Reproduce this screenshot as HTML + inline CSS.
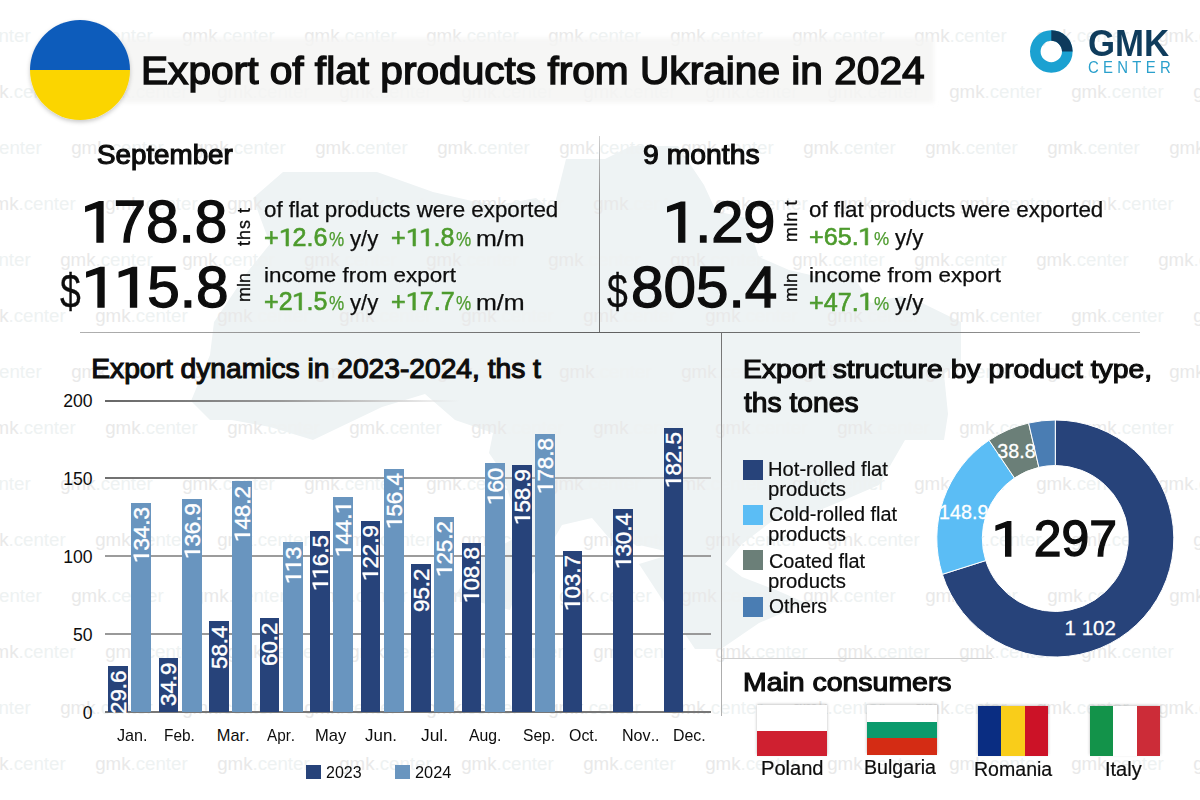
<!DOCTYPE html>
<html><head><meta charset="utf-8"><style>
html,body{margin:0;padding:0;background:#fff;}
#root{position:relative;width:1200px;height:800px;overflow:hidden;background:#fff;font-family:"Liberation Sans",sans-serif;}
.t{position:absolute;white-space:nowrap;line-height:1;transform-origin:0 0;font-kerning:none;}
.wm span{position:absolute;font-size:18.7px;color:#e9e9e9;white-space:nowrap;line-height:1;font-kerning:none;}
.wm i{font-style:normal;color:#eef2f2;}
.gl{position:absolute;left:105px;width:606px;height:2px;background:#8c8c8c;}
.gl0{position:absolute;left:105px;width:606px;height:2px;background:#777;}
.bar{position:absolute;width:19.8px;}
.vt{position:absolute;writing-mode:vertical-rl;transform:rotate(180deg);white-space:nowrap;text-align:left;}
</style></head><body><div id="root">
<svg width="1200" height="800" style="position:absolute;left:0;top:0">
  <defs><filter id="bblur" x="-5%" y="-20%" width="110%" height="140%"><feGaussianBlur stdDeviation="1.5"/></filter><linearGradient id="tb" x1="0" x2="1" y1="0" y2="0"><stop offset="0" stop-color="#f3f3f3"/><stop offset="0.85" stop-color="#f5f5f5"/><stop offset="1" stop-color="#fafafa"/></linearGradient></defs>
  <path id="map" d="M191 401 L210 355 L214 322 L249 270 L270 244 L253 198 L283 172 L326 172 L377 172 L433 192 L472 201 L498 205 L536 198 L553 211 L566 159 L605 159 L631 146 L678 146 L704 185 L716 211 L746 218 L759 257 L789 270 L815 276 L849 270 L871 303 L901 296 L922 303 L961 322 L961 361 L944 374 L948 414 L944 440 L905 440 L879 485 L849 498 L815 512 L776 518 L742 544 L725 564 L742 577 L776 590 L806 603 L759 623 L721 649 L695 649 L669 610 L639 564 L682 551 L665 551 L609 538 L592 518 L562 525 L536 570 L515 596 L510 610 L455 596 L480 557 L528 531 L510 498 L502 472 L489 453 L493 433 L455 420 L425 394 L382 407 L313 440 L270 427 L232 420 L210 420 Z" fill="#eef3f4"/>
</svg>
<div class="wm"><span style="left:-61.8px;top:26.7px">gmk<i>.center</i></span>
<span style="left:60.2px;top:26.7px">gmk<i>.center</i></span>
<span style="left:182.2px;top:26.7px">gmk<i>.center</i></span>
<span style="left:304.2px;top:26.7px">gmk<i>.center</i></span>
<span style="left:426.2px;top:26.7px">gmk<i>.center</i></span>
<span style="left:548.2px;top:26.7px">gmk<i>.center</i></span>
<span style="left:670.2px;top:26.7px">gmk<i>.center</i></span>
<span style="left:792.2px;top:26.7px">gmk<i>.center</i></span>
<span style="left:914.2px;top:26.7px">gmk<i>.center</i></span>
<span style="left:1036.2px;top:26.7px">gmk<i>.center</i></span>
<span style="left:1158.2px;top:26.7px">gmk<i>.center</i></span>
<span style="left:-26.8px;top:82.7px">gmk<i>.center</i></span>
<span style="left:95.2px;top:82.7px">gmk<i>.center</i></span>
<span style="left:217.2px;top:82.7px">gmk<i>.center</i></span>
<span style="left:339.2px;top:82.7px">gmk<i>.center</i></span>
<span style="left:461.2px;top:82.7px">gmk<i>.center</i></span>
<span style="left:583.2px;top:82.7px">gmk<i>.center</i></span>
<span style="left:705.2px;top:82.7px">gmk<i>.center</i></span>
<span style="left:827.2px;top:82.7px">gmk<i>.center</i></span>
<span style="left:949.2px;top:82.7px">gmk<i>.center</i></span>
<span style="left:1071.2px;top:82.7px">gmk<i>.center</i></span>
<span style="left:1193.2px;top:82.7px">gmk<i>.center</i></span>
<span style="left:-50.8px;top:138.7px">gmk<i>.center</i></span>
<span style="left:71.2px;top:138.7px">gmk<i>.center</i></span>
<span style="left:193.2px;top:138.7px">gmk<i>.center</i></span>
<span style="left:315.2px;top:138.7px">gmk<i>.center</i></span>
<span style="left:437.2px;top:138.7px">gmk<i>.center</i></span>
<span style="left:559.2px;top:138.7px">gmk<i>.center</i></span>
<span style="left:681.2px;top:138.7px">gmk<i>.center</i></span>
<span style="left:803.2px;top:138.7px">gmk<i>.center</i></span>
<span style="left:925.2px;top:138.7px">gmk<i>.center</i></span>
<span style="left:1047.2px;top:138.7px">gmk<i>.center</i></span>
<span style="left:1169.2px;top:138.7px">gmk<i>.center</i></span>
<span style="left:-16.8px;top:194.7px">gmk<i>.center</i></span>
<span style="left:105.2px;top:194.7px">gmk<i>.center</i></span>
<span style="left:227.2px;top:194.7px">gmk<i>.center</i></span>
<span style="left:349.2px;top:194.7px">gmk<i>.center</i></span>
<span style="left:471.2px;top:194.7px">gmk<i>.center</i></span>
<span style="left:593.2px;top:194.7px">gmk<i>.center</i></span>
<span style="left:715.2px;top:194.7px">gmk<i>.center</i></span>
<span style="left:837.2px;top:194.7px">gmk<i>.center</i></span>
<span style="left:959.2px;top:194.7px">gmk<i>.center</i></span>
<span style="left:1081.2px;top:194.7px">gmk<i>.center</i></span>
<span style="left:-61.8px;top:250.7px">gmk<i>.center</i></span>
<span style="left:60.2px;top:250.7px">gmk<i>.center</i></span>
<span style="left:182.2px;top:250.7px">gmk<i>.center</i></span>
<span style="left:304.2px;top:250.7px">gmk<i>.center</i></span>
<span style="left:426.2px;top:250.7px">gmk<i>.center</i></span>
<span style="left:548.2px;top:250.7px">gmk<i>.center</i></span>
<span style="left:670.2px;top:250.7px">gmk<i>.center</i></span>
<span style="left:792.2px;top:250.7px">gmk<i>.center</i></span>
<span style="left:914.2px;top:250.7px">gmk<i>.center</i></span>
<span style="left:1036.2px;top:250.7px">gmk<i>.center</i></span>
<span style="left:1158.2px;top:250.7px">gmk<i>.center</i></span>
<span style="left:-26.8px;top:306.7px">gmk<i>.center</i></span>
<span style="left:95.2px;top:306.7px">gmk<i>.center</i></span>
<span style="left:217.2px;top:306.7px">gmk<i>.center</i></span>
<span style="left:339.2px;top:306.7px">gmk<i>.center</i></span>
<span style="left:461.2px;top:306.7px">gmk<i>.center</i></span>
<span style="left:583.2px;top:306.7px">gmk<i>.center</i></span>
<span style="left:705.2px;top:306.7px">gmk<i>.center</i></span>
<span style="left:827.2px;top:306.7px">gmk<i>.center</i></span>
<span style="left:949.2px;top:306.7px">gmk<i>.center</i></span>
<span style="left:1071.2px;top:306.7px">gmk<i>.center</i></span>
<span style="left:1193.2px;top:306.7px">gmk<i>.center</i></span>
<span style="left:-50.8px;top:362.7px">gmk<i>.center</i></span>
<span style="left:71.2px;top:362.7px">gmk<i>.center</i></span>
<span style="left:193.2px;top:362.7px">gmk<i>.center</i></span>
<span style="left:315.2px;top:362.7px">gmk<i>.center</i></span>
<span style="left:437.2px;top:362.7px">gmk<i>.center</i></span>
<span style="left:559.2px;top:362.7px">gmk<i>.center</i></span>
<span style="left:681.2px;top:362.7px">gmk<i>.center</i></span>
<span style="left:803.2px;top:362.7px">gmk<i>.center</i></span>
<span style="left:925.2px;top:362.7px">gmk<i>.center</i></span>
<span style="left:1047.2px;top:362.7px">gmk<i>.center</i></span>
<span style="left:1169.2px;top:362.7px">gmk<i>.center</i></span>
<span style="left:-16.8px;top:418.7px">gmk<i>.center</i></span>
<span style="left:105.2px;top:418.7px">gmk<i>.center</i></span>
<span style="left:227.2px;top:418.7px">gmk<i>.center</i></span>
<span style="left:349.2px;top:418.7px">gmk<i>.center</i></span>
<span style="left:471.2px;top:418.7px">gmk<i>.center</i></span>
<span style="left:593.2px;top:418.7px">gmk<i>.center</i></span>
<span style="left:715.2px;top:418.7px">gmk<i>.center</i></span>
<span style="left:837.2px;top:418.7px">gmk<i>.center</i></span>
<span style="left:959.2px;top:418.7px">gmk<i>.center</i></span>
<span style="left:1081.2px;top:418.7px">gmk<i>.center</i></span>
<span style="left:-61.8px;top:474.7px">gmk<i>.center</i></span>
<span style="left:60.2px;top:474.7px">gmk<i>.center</i></span>
<span style="left:182.2px;top:474.7px">gmk<i>.center</i></span>
<span style="left:304.2px;top:474.7px">gmk<i>.center</i></span>
<span style="left:426.2px;top:474.7px">gmk<i>.center</i></span>
<span style="left:548.2px;top:474.7px">gmk<i>.center</i></span>
<span style="left:670.2px;top:474.7px">gmk<i>.center</i></span>
<span style="left:792.2px;top:474.7px">gmk<i>.center</i></span>
<span style="left:914.2px;top:474.7px">gmk<i>.center</i></span>
<span style="left:1036.2px;top:474.7px">gmk<i>.center</i></span>
<span style="left:1158.2px;top:474.7px">gmk<i>.center</i></span>
<span style="left:-26.8px;top:530.7px">gmk<i>.center</i></span>
<span style="left:95.2px;top:530.7px">gmk<i>.center</i></span>
<span style="left:217.2px;top:530.7px">gmk<i>.center</i></span>
<span style="left:339.2px;top:530.7px">gmk<i>.center</i></span>
<span style="left:461.2px;top:530.7px">gmk<i>.center</i></span>
<span style="left:583.2px;top:530.7px">gmk<i>.center</i></span>
<span style="left:705.2px;top:530.7px">gmk<i>.center</i></span>
<span style="left:827.2px;top:530.7px">gmk<i>.center</i></span>
<span style="left:949.2px;top:530.7px">gmk<i>.center</i></span>
<span style="left:1071.2px;top:530.7px">gmk<i>.center</i></span>
<span style="left:1193.2px;top:530.7px">gmk<i>.center</i></span>
<span style="left:-50.8px;top:586.7px">gmk<i>.center</i></span>
<span style="left:71.2px;top:586.7px">gmk<i>.center</i></span>
<span style="left:193.2px;top:586.7px">gmk<i>.center</i></span>
<span style="left:315.2px;top:586.7px">gmk<i>.center</i></span>
<span style="left:437.2px;top:586.7px">gmk<i>.center</i></span>
<span style="left:559.2px;top:586.7px">gmk<i>.center</i></span>
<span style="left:681.2px;top:586.7px">gmk<i>.center</i></span>
<span style="left:803.2px;top:586.7px">gmk<i>.center</i></span>
<span style="left:925.2px;top:586.7px">gmk<i>.center</i></span>
<span style="left:1047.2px;top:586.7px">gmk<i>.center</i></span>
<span style="left:1169.2px;top:586.7px">gmk<i>.center</i></span>
<span style="left:-16.8px;top:642.7px">gmk<i>.center</i></span>
<span style="left:105.2px;top:642.7px">gmk<i>.center</i></span>
<span style="left:227.2px;top:642.7px">gmk<i>.center</i></span>
<span style="left:349.2px;top:642.7px">gmk<i>.center</i></span>
<span style="left:471.2px;top:642.7px">gmk<i>.center</i></span>
<span style="left:593.2px;top:642.7px">gmk<i>.center</i></span>
<span style="left:715.2px;top:642.7px">gmk<i>.center</i></span>
<span style="left:837.2px;top:642.7px">gmk<i>.center</i></span>
<span style="left:959.2px;top:642.7px">gmk<i>.center</i></span>
<span style="left:1081.2px;top:642.7px">gmk<i>.center</i></span>
<span style="left:-61.8px;top:698.7px">gmk<i>.center</i></span>
<span style="left:60.2px;top:698.7px">gmk<i>.center</i></span>
<span style="left:182.2px;top:698.7px">gmk<i>.center</i></span>
<span style="left:304.2px;top:698.7px">gmk<i>.center</i></span>
<span style="left:426.2px;top:698.7px">gmk<i>.center</i></span>
<span style="left:548.2px;top:698.7px">gmk<i>.center</i></span>
<span style="left:670.2px;top:698.7px">gmk<i>.center</i></span>
<span style="left:792.2px;top:698.7px">gmk<i>.center</i></span>
<span style="left:914.2px;top:698.7px">gmk<i>.center</i></span>
<span style="left:1036.2px;top:698.7px">gmk<i>.center</i></span>
<span style="left:1158.2px;top:698.7px">gmk<i>.center</i></span>
<span style="left:-26.8px;top:754.7px">gmk<i>.center</i></span>
<span style="left:95.2px;top:754.7px">gmk<i>.center</i></span>
<span style="left:217.2px;top:754.7px">gmk<i>.center</i></span>
<span style="left:339.2px;top:754.7px">gmk<i>.center</i></span>
<span style="left:461.2px;top:754.7px">gmk<i>.center</i></span>
<span style="left:583.2px;top:754.7px">gmk<i>.center</i></span>
<span style="left:705.2px;top:754.7px">gmk<i>.center</i></span>
<span style="left:827.2px;top:754.7px">gmk<i>.center</i></span>
<span style="left:949.2px;top:754.7px">gmk<i>.center</i></span>
<span style="left:1071.2px;top:754.7px">gmk<i>.center</i></span>
<span style="left:1193.2px;top:754.7px">gmk<i>.center</i></span>
<span style="left:-50.8px;top:810.7px">gmk<i>.center</i></span>
<span style="left:71.2px;top:810.7px">gmk<i>.center</i></span>
<span style="left:193.2px;top:810.7px">gmk<i>.center</i></span>
<span style="left:315.2px;top:810.7px">gmk<i>.center</i></span>
<span style="left:437.2px;top:810.7px">gmk<i>.center</i></span>
<span style="left:559.2px;top:810.7px">gmk<i>.center</i></span>
<span style="left:681.2px;top:810.7px">gmk<i>.center</i></span>
<span style="left:803.2px;top:810.7px">gmk<i>.center</i></span>
<span style="left:925.2px;top:810.7px">gmk<i>.center</i></span>
<span style="left:1047.2px;top:810.7px">gmk<i>.center</i></span>
<span style="left:1169.2px;top:810.7px">gmk<i>.center</i></span></div>
<svg width="1200" height="130" style="position:absolute;left:0;top:0"><defs><filter id="bblur2" x="-5%" y="-30%" width="110%" height="160%"><feGaussianBlur stdDeviation="2.2"/></filter></defs><rect x="122" y="38" width="812" height="65" fill="#f5f5f3" fill-opacity="0.85" filter="url(#bblur2)"/></svg>
<svg width="1200" height="130" style="position:absolute;left:0;top:0">
<defs><filter id="sh" x="-20%" y="-20%" width="140%" height="150%"><feDropShadow dx="0" dy="2" stdDeviation="2" flood-color="#000" flood-opacity="0.22"/></filter>
<clipPath id="fc"><circle cx="80" cy="70" r="50"/></clipPath></defs>
<g filter="url(#sh)"><g clip-path="url(#fc)"><rect x="30" y="20" width="100" height="50" fill="#0f5cbb"/><rect x="30" y="70" width="100" height="50" fill="#fbd500"/></g></g>
<circle cx="1051.3" cy="51.5" r="16" fill="none" stroke="#1ba1d1" stroke-width="10.6"/>
<path d="M1051.3 35.5 A16 16 0 0 1 1067.3 51.5" fill="none" stroke="#0e3a5c" stroke-width="10.6"/>
</svg>
<div class="t" style="left:140.71px;top:52.20px;font-size:38.23px;font-weight:normal;color:#0d0d0d;-webkit-text-stroke:1.4px #0d0d0d;transform:scaleX(1.0630);letter-spacing:0.0px;">Export of flat products from Ukraine in 2024</div>
<div class="t" style="left:1087.87px;top:25.00px;font-size:37.24px;font-weight:bold;color:#0f3c5c;transform:scaleX(0.9341);letter-spacing:0.0px;">GMK</div>
<div class="t" style="left:1087.94px;top:60.30px;font-size:15.61px;font-weight:normal;color:#2aa0cc;transform:scaleX(0.9546);letter-spacing:4.5px;">CENTER</div>
<div class="t" style="left:97.33px;top:141.70px;font-size:26.81px;font-weight:normal;color:#0d0d0d;-webkit-text-stroke:1.15px #0d0d0d;transform:scaleX(1.0358);letter-spacing:0.0px;">September</div>
<div class="t" style="left:643.02px;top:140.60px;font-size:27.36px;font-weight:normal;color:#0d0d0d;-webkit-text-stroke:1.15px #0d0d0d;transform:scaleX(1.0371);letter-spacing:0.0px;">9 months</div>
<div class="t" style="left:81.49px;top:193.00px;font-size:58.79px;font-weight:normal;color:#0d0d0d;-webkit-text-stroke:1.3px #0d0d0d;transform:scaleX(0.9951);letter-spacing:0.0px;"><span style="position:relative;color:transparent;-webkit-text-stroke:0 transparent">1<svg style="position:absolute;left:0;top:0;overflow:visible" width="32.70" height="65"><g transform="translate(0 53) scale(0.02871 -0.02871)"><path d="M770 0 L770 1409 L640 1409 L165 1232 L165 1068 L560 1205 L560 0 Z" fill="#0d0d0d" stroke="#0d0d0d" stroke-width="45.3" stroke-linejoin="miter"/></g></svg></span>78.8</div>
<div class="t" style="left:82.00px;top:258.70px;font-size:57.64px;font-weight:normal;color:#0d0d0d;-webkit-text-stroke:1.3px #0d0d0d;transform:scaleX(1.0162);letter-spacing:0.0px;"><span style="position:relative;color:transparent;-webkit-text-stroke:0 transparent">1<svg style="position:absolute;left:0;top:0;overflow:visible" width="32.06" height="64"><g transform="translate(0 52) scale(0.02815 -0.02815)"><path d="M770 0 L770 1409 L640 1409 L165 1232 L165 1068 L560 1205 L560 0 Z" fill="#0d0d0d" stroke="#0d0d0d" stroke-width="46.2" stroke-linejoin="miter"/></g></svg></span><span style="position:relative;color:transparent;-webkit-text-stroke:0 transparent">1<svg style="position:absolute;left:0;top:0;overflow:visible" width="32.06" height="64"><g transform="translate(0 52) scale(0.02815 -0.02815)"><path d="M770 0 L770 1409 L640 1409 L165 1232 L165 1068 L560 1205 L560 0 Z" fill="#0d0d0d" stroke="#0d0d0d" stroke-width="46.2" stroke-linejoin="miter"/></g></svg></span>5.8</div>
<div class="t" style="left:59.72px;top:266.50px;font-size:48.16px;font-weight:normal;color:#0d0d0d;-webkit-text-stroke:0.3px #0d0d0d;transform:scaleX(0.7755);letter-spacing:0.0px;">$</div>
<div class="t" style="left:662.95px;top:193.00px;font-size:58.07px;font-weight:normal;color:#0d0d0d;-webkit-text-stroke:1.3px #0d0d0d;transform:scaleX(0.9948);letter-spacing:0.0px;"><span style="position:relative;color:transparent;-webkit-text-stroke:0 transparent">1<svg style="position:absolute;left:0;top:0;overflow:visible" width="32.30" height="65"><g transform="translate(0 53) scale(0.02836 -0.02836)"><path d="M770 0 L770 1409 L640 1409 L165 1232 L165 1068 L560 1205 L560 0 Z" fill="#0d0d0d" stroke="#0d0d0d" stroke-width="45.8" stroke-linejoin="miter"/></g></svg></span>.29</div>
<div class="t" style="left:630.62px;top:258.70px;font-size:57.64px;font-weight:normal;color:#0d0d0d;-webkit-text-stroke:1.3px #0d0d0d;transform:scaleX(1.0137);letter-spacing:0.0px;">805.4</div>
<div class="t" style="left:607.22px;top:266.50px;font-size:48.16px;font-weight:normal;color:#0d0d0d;-webkit-text-stroke:0.3px #0d0d0d;transform:scaleX(0.7755);letter-spacing:0.0px;">$</div>
<div class="vt" style="left:236.3px;top:207.2px;width:16px;line-height:16px;font-size:18px;color:#0d0d0d;letter-spacing:1.0px;-webkit-text-stroke:0.3px #111">ths t</div>
<div class="vt" style="left:236.3px;top:273.3px;width:16px;line-height:16px;font-size:18px;color:#0d0d0d;letter-spacing:0px;-webkit-text-stroke:0.3px #111">mln</div>
<div class="vt" style="left:783.3px;top:200.3px;width:16px;line-height:16px;font-size:18px;color:#0d0d0d;letter-spacing:0.6px;-webkit-text-stroke:0.3px #111">mln t</div>
<div class="vt" style="left:783.3px;top:273.3px;width:16px;line-height:16px;font-size:18px;color:#0d0d0d;letter-spacing:0px;-webkit-text-stroke:0.3px #111">mln</div>
<div class="t" style="left:264.49px;top:200.00px;font-size:21.36px;font-weight:normal;color:#0d0d0d;-webkit-text-stroke:0.25px #0d0d0d;transform:scaleX(1.0457);letter-spacing:0.0px;">of flat products were exported</div>
<div class="t" style="left:263.94px;top:265.20px;font-size:20.39px;font-weight:normal;color:#0d0d0d;-webkit-text-stroke:0.25px #0d0d0d;transform:scaleX(1.1007);letter-spacing:0.0px;">income from export</div>
<div class="t" style="left:264.38px;top:224.70px;font-size:24.92px;font-weight:normal;color:#4d9b2d;-webkit-text-stroke:0.6px #4d9b2d;transform:scaleX(1.0075);letter-spacing:0.0px;">+<span style="position:relative;color:transparent;-webkit-text-stroke:0 transparent">1<svg style="position:absolute;left:0;top:0;overflow:visible" width="13.86" height="28"><g transform="translate(0 23) scale(0.01217 -0.01217)"><path d="M770 0 L770 1409 L640 1409 L165 1232 L165 1068 L560 1205 L560 0 Z" fill="#4d9b2d" stroke="#4d9b2d" stroke-width="49.3" stroke-linejoin="miter"/></g></svg></span>2.6</div>
<div class="t" style="left:329.00px;top:229.70px;font-size:19.56px;font-weight:normal;color:#4d9b2d;-webkit-text-stroke:0.25px #4d9b2d;transform:scaleX(0.8738);letter-spacing:0.0px;">%</div>
<div class="t" style="left:350.37px;top:228.70px;font-size:21.50px;font-weight:normal;color:#0d0d0d;-webkit-text-stroke:0.25px #0d0d0d;transform:scaleX(1.0315);letter-spacing:0.0px;">y/y</div>
<div class="t" style="left:391.28px;top:224.70px;font-size:24.92px;font-weight:normal;color:#4d9b2d;-webkit-text-stroke:0.6px #4d9b2d;transform:scaleX(1.0073);letter-spacing:0.0px;">+<span style="position:relative;color:transparent;-webkit-text-stroke:0 transparent">1<svg style="position:absolute;left:0;top:0;overflow:visible" width="13.86" height="28"><g transform="translate(0 23) scale(0.01217 -0.01217)"><path d="M770 0 L770 1409 L640 1409 L165 1232 L165 1068 L560 1205 L560 0 Z" fill="#4d9b2d" stroke="#4d9b2d" stroke-width="49.3" stroke-linejoin="miter"/></g></svg></span><span style="position:relative;color:transparent;-webkit-text-stroke:0 transparent">1<svg style="position:absolute;left:0;top:0;overflow:visible" width="13.86" height="28"><g transform="translate(0 23) scale(0.01217 -0.01217)"><path d="M770 0 L770 1409 L640 1409 L165 1232 L165 1068 L560 1205 L560 0 Z" fill="#4d9b2d" stroke="#4d9b2d" stroke-width="49.3" stroke-linejoin="miter"/></g></svg></span>.8</div>
<div class="t" style="left:455.90px;top:229.70px;font-size:19.56px;font-weight:normal;color:#4d9b2d;-webkit-text-stroke:0.25px #4d9b2d;transform:scaleX(0.8738);letter-spacing:0.0px;">%</div>
<div class="t" style="left:476.18px;top:228.70px;font-size:21.50px;font-weight:normal;color:#0d0d0d;-webkit-text-stroke:0.25px #0d0d0d;transform:scaleX(1.1633);letter-spacing:0.0px;">m/m</div>
<div class="t" style="left:264.38px;top:288.70px;font-size:24.92px;font-weight:normal;color:#4d9b2d;-webkit-text-stroke:0.6px #4d9b2d;transform:scaleX(1.0067);letter-spacing:0.0px;">+2<span style="position:relative;color:transparent;-webkit-text-stroke:0 transparent">1<svg style="position:absolute;left:0;top:0;overflow:visible" width="13.86" height="28"><g transform="translate(0 23) scale(0.01217 -0.01217)"><path d="M770 0 L770 1409 L640 1409 L165 1232 L165 1068 L560 1205 L560 0 Z" fill="#4d9b2d" stroke="#4d9b2d" stroke-width="49.3" stroke-linejoin="miter"/></g></svg></span>.5</div>
<div class="t" style="left:329.00px;top:293.70px;font-size:19.56px;font-weight:normal;color:#4d9b2d;-webkit-text-stroke:0.25px #4d9b2d;transform:scaleX(0.8738);letter-spacing:0.0px;">%</div>
<div class="t" style="left:350.37px;top:292.70px;font-size:21.50px;font-weight:normal;color:#0d0d0d;-webkit-text-stroke:0.25px #0d0d0d;transform:scaleX(1.0315);letter-spacing:0.0px;">y/y</div>
<div class="t" style="left:391.27px;top:288.70px;font-size:25.29px;font-weight:normal;color:#4d9b2d;-webkit-text-stroke:0.6px #4d9b2d;transform:scaleX(0.9954);letter-spacing:0.0px;">+<span style="position:relative;color:transparent;-webkit-text-stroke:0 transparent">1<svg style="position:absolute;left:0;top:0;overflow:visible" width="14.07" height="28"><g transform="translate(0 23) scale(0.01235 -0.01235)"><path d="M770 0 L770 1409 L640 1409 L165 1232 L165 1068 L560 1205 L560 0 Z" fill="#4d9b2d" stroke="#4d9b2d" stroke-width="48.6" stroke-linejoin="miter"/></g></svg></span>7.7</div>
<div class="t" style="left:455.90px;top:293.70px;font-size:19.56px;font-weight:normal;color:#4d9b2d;-webkit-text-stroke:0.25px #4d9b2d;transform:scaleX(0.8738);letter-spacing:0.0px;">%</div>
<div class="t" style="left:476.18px;top:292.70px;font-size:21.50px;font-weight:normal;color:#0d0d0d;-webkit-text-stroke:0.25px #0d0d0d;transform:scaleX(1.1633);letter-spacing:0.0px;">m/m</div>
<div class="t" style="left:809.49px;top:200.00px;font-size:21.36px;font-weight:normal;color:#0d0d0d;-webkit-text-stroke:0.25px #0d0d0d;transform:scaleX(1.0457);letter-spacing:0.0px;">of flat products were exported</div>
<div class="t" style="left:808.94px;top:265.20px;font-size:20.39px;font-weight:normal;color:#0d0d0d;-webkit-text-stroke:0.25px #0d0d0d;transform:scaleX(1.1007);letter-spacing:0.0px;">income from export</div>
<div class="t" style="left:809.38px;top:225.40px;font-size:24.49px;font-weight:normal;color:#4d9b2d;-webkit-text-stroke:0.6px #4d9b2d;transform:scaleX(1.0270);letter-spacing:0.0px;">+65.<span style="position:relative;color:transparent;-webkit-text-stroke:0 transparent">1<svg style="position:absolute;left:0;top:0;overflow:visible" width="13.62" height="27"><g transform="translate(0 22) scale(0.01196 -0.01196)"><path d="M770 0 L770 1409 L640 1409 L165 1232 L165 1068 L560 1205 L560 0 Z" fill="#4d9b2d" stroke="#4d9b2d" stroke-width="50.2" stroke-linejoin="miter"/></g></svg></span></div>
<div class="t" style="left:874.00px;top:229.40px;font-size:19.13px;font-weight:normal;color:#4d9b2d;-webkit-text-stroke:0.25px #4d9b2d;transform:scaleX(0.8932);letter-spacing:0.0px;">%</div>
<div class="t" style="left:895.37px;top:228.40px;font-size:21.50px;font-weight:normal;color:#0d0d0d;-webkit-text-stroke:0.25px #0d0d0d;transform:scaleX(1.0315);letter-spacing:0.0px;">y/y</div>
<div class="t" style="left:809.38px;top:289.90px;font-size:24.86px;font-weight:normal;color:#4d9b2d;-webkit-text-stroke:0.6px #4d9b2d;transform:scaleX(1.0121);letter-spacing:0.0px;">+47.<span style="position:relative;color:transparent;-webkit-text-stroke:0 transparent">1<svg style="position:absolute;left:0;top:0;overflow:visible" width="13.82" height="27"><g transform="translate(0 22) scale(0.01214 -0.01214)"><path d="M770 0 L770 1409 L640 1409 L165 1232 L165 1068 L560 1205 L560 0 Z" fill="#4d9b2d" stroke="#4d9b2d" stroke-width="49.4" stroke-linejoin="miter"/></g></svg></span></div>
<div class="t" style="left:874.00px;top:293.90px;font-size:19.13px;font-weight:normal;color:#4d9b2d;-webkit-text-stroke:0.25px #4d9b2d;transform:scaleX(0.8932);letter-spacing:0.0px;">%</div>
<div class="t" style="left:895.37px;top:292.90px;font-size:21.50px;font-weight:normal;color:#0d0d0d;-webkit-text-stroke:0.25px #0d0d0d;transform:scaleX(1.0315);letter-spacing:0.0px;">y/y</div>
<div style="position:absolute;left:598.5px;top:136px;width:1.2px;height:196px;background:linear-gradient(to bottom,#d0d0d0,#8a8a8a 30%,#707070)"></div>
<div style="position:absolute;left:80px;top:331.5px;width:1060px;height:1.3px;background:linear-gradient(to right,#b0b0b0,#606060 50%,#808080 80%,#b0b0b0)"></div>
<div style="position:absolute;left:721.3px;top:332px;width:1.2px;height:384px;background:linear-gradient(to bottom,#707070,#a0a0a0 40%,#b0b0b0)"></div>
<div style="position:absolute;left:722px;top:657.5px;width:270px;height:1px;background:#cfcfcf"></div>
<div class="t" style="left:91.26px;top:354.00px;font-size:28.19px;font-weight:normal;color:#0d0d0d;-webkit-text-stroke:1.15px #0d0d0d;letter-spacing:0.0px;">Export dynamics in 2023-2024, ths t</div>
<div class="gl" style="top:399.5px;width:355px;background:linear-gradient(to right,#666,#999 50%,#ddd 85%,rgba(230,230,230,0))"></div>
<div class="t" style="top:392.80px;font-size:17.6px;color:#0d0d0d;font-weight:normal;right:1107.4px;text-align:right;">200</div>

<div class="gl" style="top:477.4px;background:linear-gradient(to right,#707070,#9a9a9a 45%,#c4c4c4)"></div>
<div class="t" style="top:470.73px;font-size:17.6px;color:#0d0d0d;font-weight:normal;right:1107.4px;text-align:right;">150</div>

<div class="gl" style="top:555.4px;background:#9c9c9c"></div>
<div class="t" style="top:548.65px;font-size:17.6px;color:#0d0d0d;font-weight:normal;right:1107.4px;text-align:right;">100</div>

<div class="gl" style="top:633.3px;background:#999"></div>
<div class="t" style="top:626.58px;font-size:17.6px;color:#0d0d0d;font-weight:normal;right:1107.4px;text-align:right;">50</div>

<div class="gl" style="top:711.2px;background:#777"></div>
<div class="t" style="top:704.50px;font-size:17.6px;color:#0d0d0d;font-weight:normal;right:1107.4px;text-align:right;">0</div>

<div class="bar" style="left:108.2px;top:666.1px;height:46.1px;background:#27437a"></div><div class="t" style="left:108.8px;top:714.0px;width:43.40px;height:20px;line-height:20px;font-size:22.3px;color:#fff;-webkit-text-stroke:0.45px #fff;transform:rotate(-90deg)">29.6</div>
<div class="bar" style="left:131.4px;top:502.9px;height:209.3px;background:#6995bf"></div><div class="t" style="left:132.0px;top:563.2px;width:55.80px;height:20px;line-height:20px;font-size:22.3px;color:#fff;-webkit-text-stroke:0.45px #fff;transform:rotate(-90deg)"><span style="position:relative;color:transparent;-webkit-text-stroke:0 transparent">1<svg style="position:absolute;left:0;top:0;overflow:visible" width="12.40" height="25"><g transform="translate(0 20) scale(0.01089 -0.01089)"><path d="M770 0 L770 1409 L640 1409 L165 1232 L165 1068 L560 1205 L560 0 Z" fill="#fff" stroke="#fff" stroke-width="41.3" stroke-linejoin="miter"/></g></svg></span>34.3</div>
<div class="bar" style="left:158.7px;top:657.8px;height:54.4px;background:#27437a"></div><div class="t" style="left:159.3px;top:705.7px;width:43.40px;height:20px;line-height:20px;font-size:22.3px;color:#fff;-webkit-text-stroke:0.45px #fff;transform:rotate(-90deg)">34.9</div>
<div class="bar" style="left:181.9px;top:498.8px;height:213.4px;background:#6995bf"></div><div class="t" style="left:182.5px;top:559.1px;width:55.80px;height:20px;line-height:20px;font-size:22.3px;color:#fff;-webkit-text-stroke:0.45px #fff;transform:rotate(-90deg)"><span style="position:relative;color:transparent;-webkit-text-stroke:0 transparent">1<svg style="position:absolute;left:0;top:0;overflow:visible" width="12.40" height="25"><g transform="translate(0 20) scale(0.01089 -0.01089)"><path d="M770 0 L770 1409 L640 1409 L165 1232 L165 1068 L560 1205 L560 0 Z" fill="#fff" stroke="#fff" stroke-width="41.3" stroke-linejoin="miter"/></g></svg></span>36.9</div>
<div class="bar" style="left:209.2px;top:621.2px;height:91.0px;background:#27437a"></div><div class="t" style="left:209.8px;top:669.1px;width:43.40px;height:20px;line-height:20px;font-size:22.3px;color:#fff;-webkit-text-stroke:0.45px #fff;transform:rotate(-90deg)">58.4</div>
<div class="bar" style="left:232.4px;top:481.2px;height:231.0px;background:#6995bf"></div><div class="t" style="left:233.0px;top:541.5px;width:55.80px;height:20px;line-height:20px;font-size:22.3px;color:#fff;-webkit-text-stroke:0.45px #fff;transform:rotate(-90deg)"><span style="position:relative;color:transparent;-webkit-text-stroke:0 transparent">1<svg style="position:absolute;left:0;top:0;overflow:visible" width="12.40" height="25"><g transform="translate(0 20) scale(0.01089 -0.01089)"><path d="M770 0 L770 1409 L640 1409 L165 1232 L165 1068 L560 1205 L560 0 Z" fill="#fff" stroke="#fff" stroke-width="41.3" stroke-linejoin="miter"/></g></svg></span>48.2</div>
<div class="bar" style="left:259.7px;top:618.4px;height:93.8px;background:#27437a"></div><div class="t" style="left:260.3px;top:666.3px;width:43.40px;height:20px;line-height:20px;font-size:22.3px;color:#fff;-webkit-text-stroke:0.45px #fff;transform:rotate(-90deg)">60.2</div>
<div class="bar" style="left:282.9px;top:542.0px;height:170.2px;background:#6995bf"></div><div class="t" style="left:283.5px;top:583.7px;width:37.21px;height:20px;line-height:20px;font-size:22.3px;color:#fff;-webkit-text-stroke:0.45px #fff;transform:rotate(-90deg)"><span style="position:relative;color:transparent;-webkit-text-stroke:0 transparent">1<svg style="position:absolute;left:0;top:0;overflow:visible" width="12.40" height="25"><g transform="translate(0 20) scale(0.01089 -0.01089)"><path d="M770 0 L770 1409 L640 1409 L165 1232 L165 1068 L560 1205 L560 0 Z" fill="#fff" stroke="#fff" stroke-width="41.3" stroke-linejoin="miter"/></g></svg></span><span style="position:relative;color:transparent;-webkit-text-stroke:0 transparent">1<svg style="position:absolute;left:0;top:0;overflow:visible" width="12.40" height="25"><g transform="translate(0 20) scale(0.01089 -0.01089)"><path d="M770 0 L770 1409 L640 1409 L165 1232 L165 1068 L560 1205 L560 0 Z" fill="#fff" stroke="#fff" stroke-width="41.3" stroke-linejoin="miter"/></g></svg></span>3</div>
<div class="bar" style="left:310.2px;top:530.6px;height:181.6px;background:#27437a"></div><div class="t" style="left:310.8px;top:590.9px;width:55.80px;height:20px;line-height:20px;font-size:22.3px;color:#fff;-webkit-text-stroke:0.45px #fff;transform:rotate(-90deg)"><span style="position:relative;color:transparent;-webkit-text-stroke:0 transparent">1<svg style="position:absolute;left:0;top:0;overflow:visible" width="12.40" height="25"><g transform="translate(0 20) scale(0.01089 -0.01089)"><path d="M770 0 L770 1409 L640 1409 L165 1232 L165 1068 L560 1205 L560 0 Z" fill="#fff" stroke="#fff" stroke-width="41.3" stroke-linejoin="miter"/></g></svg></span><span style="position:relative;color:transparent;-webkit-text-stroke:0 transparent">1<svg style="position:absolute;left:0;top:0;overflow:visible" width="12.40" height="25"><g transform="translate(0 20) scale(0.01089 -0.01089)"><path d="M770 0 L770 1409 L640 1409 L165 1232 L165 1068 L560 1205 L560 0 Z" fill="#fff" stroke="#fff" stroke-width="41.3" stroke-linejoin="miter"/></g></svg></span>6.5</div>
<div class="bar" style="left:333.4px;top:497.1px;height:215.1px;background:#6995bf"></div><div class="t" style="left:334.0px;top:557.4px;width:55.80px;height:20px;line-height:20px;font-size:22.3px;color:#fff;-webkit-text-stroke:0.45px #fff;transform:rotate(-90deg)"><span style="position:relative;color:transparent;-webkit-text-stroke:0 transparent">1<svg style="position:absolute;left:0;top:0;overflow:visible" width="12.40" height="25"><g transform="translate(0 20) scale(0.01089 -0.01089)"><path d="M770 0 L770 1409 L640 1409 L165 1232 L165 1068 L560 1205 L560 0 Z" fill="#fff" stroke="#fff" stroke-width="41.3" stroke-linejoin="miter"/></g></svg></span>44.<span style="position:relative;color:transparent;-webkit-text-stroke:0 transparent">1<svg style="position:absolute;left:0;top:0;overflow:visible" width="12.40" height="25"><g transform="translate(0 20) scale(0.01089 -0.01089)"><path d="M770 0 L770 1409 L640 1409 L165 1232 L165 1068 L560 1205 L560 0 Z" fill="#fff" stroke="#fff" stroke-width="41.3" stroke-linejoin="miter"/></g></svg></span></div>
<div class="bar" style="left:360.7px;top:520.7px;height:191.5px;background:#27437a"></div><div class="t" style="left:361.3px;top:581.0px;width:55.80px;height:20px;line-height:20px;font-size:22.3px;color:#fff;-webkit-text-stroke:0.45px #fff;transform:rotate(-90deg)"><span style="position:relative;color:transparent;-webkit-text-stroke:0 transparent">1<svg style="position:absolute;left:0;top:0;overflow:visible" width="12.40" height="25"><g transform="translate(0 20) scale(0.01089 -0.01089)"><path d="M770 0 L770 1409 L640 1409 L165 1232 L165 1068 L560 1205 L560 0 Z" fill="#fff" stroke="#fff" stroke-width="41.3" stroke-linejoin="miter"/></g></svg></span>22.9</div>
<div class="bar" style="left:383.9px;top:468.5px;height:243.7px;background:#6995bf"></div><div class="t" style="left:384.5px;top:528.8px;width:55.80px;height:20px;line-height:20px;font-size:22.3px;color:#fff;-webkit-text-stroke:0.45px #fff;transform:rotate(-90deg)"><span style="position:relative;color:transparent;-webkit-text-stroke:0 transparent">1<svg style="position:absolute;left:0;top:0;overflow:visible" width="12.40" height="25"><g transform="translate(0 20) scale(0.01089 -0.01089)"><path d="M770 0 L770 1409 L640 1409 L165 1232 L165 1068 L560 1205 L560 0 Z" fill="#fff" stroke="#fff" stroke-width="41.3" stroke-linejoin="miter"/></g></svg></span>56.4</div>
<div class="bar" style="left:411.2px;top:563.8px;height:148.4px;background:#27437a"></div><div class="t" style="left:411.8px;top:611.7px;width:43.40px;height:20px;line-height:20px;font-size:22.3px;color:#fff;-webkit-text-stroke:0.45px #fff;transform:rotate(-90deg)">95.2</div>
<div class="bar" style="left:434.4px;top:517.1px;height:195.1px;background:#6995bf"></div><div class="t" style="left:435.0px;top:577.4px;width:55.80px;height:20px;line-height:20px;font-size:22.3px;color:#fff;-webkit-text-stroke:0.45px #fff;transform:rotate(-90deg)"><span style="position:relative;color:transparent;-webkit-text-stroke:0 transparent">1<svg style="position:absolute;left:0;top:0;overflow:visible" width="12.40" height="25"><g transform="translate(0 20) scale(0.01089 -0.01089)"><path d="M770 0 L770 1409 L640 1409 L165 1232 L165 1068 L560 1205 L560 0 Z" fill="#fff" stroke="#fff" stroke-width="41.3" stroke-linejoin="miter"/></g></svg></span>25.2</div>
<div class="bar" style="left:461.7px;top:542.6px;height:169.6px;background:#27437a"></div><div class="t" style="left:462.3px;top:602.9px;width:55.80px;height:20px;line-height:20px;font-size:22.3px;color:#fff;-webkit-text-stroke:0.45px #fff;transform:rotate(-90deg)"><span style="position:relative;color:transparent;-webkit-text-stroke:0 transparent">1<svg style="position:absolute;left:0;top:0;overflow:visible" width="12.40" height="25"><g transform="translate(0 20) scale(0.01089 -0.01089)"><path d="M770 0 L770 1409 L640 1409 L165 1232 L165 1068 L560 1205 L560 0 Z" fill="#fff" stroke="#fff" stroke-width="41.3" stroke-linejoin="miter"/></g></svg></span>08.8</div>
<div class="bar" style="left:484.9px;top:462.8px;height:249.4px;background:#6995bf"></div><div class="t" style="left:485.5px;top:504.5px;width:37.21px;height:20px;line-height:20px;font-size:22.3px;color:#fff;-webkit-text-stroke:0.45px #fff;transform:rotate(-90deg)"><span style="position:relative;color:transparent;-webkit-text-stroke:0 transparent">1<svg style="position:absolute;left:0;top:0;overflow:visible" width="12.40" height="25"><g transform="translate(0 20) scale(0.01089 -0.01089)"><path d="M770 0 L770 1409 L640 1409 L165 1232 L165 1068 L560 1205 L560 0 Z" fill="#fff" stroke="#fff" stroke-width="41.3" stroke-linejoin="miter"/></g></svg></span>60</div>
<div class="bar" style="left:512.2px;top:464.6px;height:247.6px;background:#27437a"></div><div class="t" style="left:512.8px;top:524.9px;width:55.80px;height:20px;line-height:20px;font-size:22.3px;color:#fff;-webkit-text-stroke:0.45px #fff;transform:rotate(-90deg)"><span style="position:relative;color:transparent;-webkit-text-stroke:0 transparent">1<svg style="position:absolute;left:0;top:0;overflow:visible" width="12.40" height="25"><g transform="translate(0 20) scale(0.01089 -0.01089)"><path d="M770 0 L770 1409 L640 1409 L165 1232 L165 1068 L560 1205 L560 0 Z" fill="#fff" stroke="#fff" stroke-width="41.3" stroke-linejoin="miter"/></g></svg></span>58.9</div>
<div class="bar" style="left:535.4px;top:433.5px;height:278.7px;background:#6995bf"></div><div class="t" style="left:536.0px;top:493.8px;width:55.80px;height:20px;line-height:20px;font-size:22.3px;color:#fff;-webkit-text-stroke:0.45px #fff;transform:rotate(-90deg)"><span style="position:relative;color:transparent;-webkit-text-stroke:0 transparent">1<svg style="position:absolute;left:0;top:0;overflow:visible" width="12.40" height="25"><g transform="translate(0 20) scale(0.01089 -0.01089)"><path d="M770 0 L770 1409 L640 1409 L165 1232 L165 1068 L560 1205 L560 0 Z" fill="#fff" stroke="#fff" stroke-width="41.3" stroke-linejoin="miter"/></g></svg></span>78.8</div>
<div class="bar" style="left:562.7px;top:550.6px;height:161.6px;background:#27437a"></div><div class="t" style="left:563.3px;top:610.9px;width:55.80px;height:20px;line-height:20px;font-size:22.3px;color:#fff;-webkit-text-stroke:0.45px #fff;transform:rotate(-90deg)"><span style="position:relative;color:transparent;-webkit-text-stroke:0 transparent">1<svg style="position:absolute;left:0;top:0;overflow:visible" width="12.40" height="25"><g transform="translate(0 20) scale(0.01089 -0.01089)"><path d="M770 0 L770 1409 L640 1409 L165 1232 L165 1068 L560 1205 L560 0 Z" fill="#fff" stroke="#fff" stroke-width="41.3" stroke-linejoin="miter"/></g></svg></span>03.7</div>
<div class="bar" style="left:613.2px;top:509.0px;height:203.2px;background:#27437a"></div><div class="t" style="left:613.8px;top:569.3px;width:55.80px;height:20px;line-height:20px;font-size:22.3px;color:#fff;-webkit-text-stroke:0.45px #fff;transform:rotate(-90deg)"><span style="position:relative;color:transparent;-webkit-text-stroke:0 transparent">1<svg style="position:absolute;left:0;top:0;overflow:visible" width="12.40" height="25"><g transform="translate(0 20) scale(0.01089 -0.01089)"><path d="M770 0 L770 1409 L640 1409 L165 1232 L165 1068 L560 1205 L560 0 Z" fill="#fff" stroke="#fff" stroke-width="41.3" stroke-linejoin="miter"/></g></svg></span>30.4</div>
<div class="bar" style="left:663.7px;top:427.8px;height:284.4px;background:#27437a"></div><div class="t" style="left:664.3px;top:488.1px;width:55.80px;height:20px;line-height:20px;font-size:22.3px;color:#fff;-webkit-text-stroke:0.45px #fff;transform:rotate(-90deg)"><span style="position:relative;color:transparent;-webkit-text-stroke:0 transparent">1<svg style="position:absolute;left:0;top:0;overflow:visible" width="12.40" height="25"><g transform="translate(0 20) scale(0.01089 -0.01089)"><path d="M770 0 L770 1409 L640 1409 L165 1232 L165 1068 L560 1205 L560 0 Z" fill="#fff" stroke="#fff" stroke-width="41.3" stroke-linejoin="miter"/></g></svg></span>82.5</div>
<div class="t" style="left:117.25px;top:726.75px;font-size:16.40px;font-weight:normal;color:#0d0d0d;transform:scaleX(0.9882);letter-spacing:0.0px;">Jan.</div>

<div class="t" style="left:163.83px;top:726.75px;font-size:16.40px;font-weight:normal;color:#0d0d0d;transform:scaleX(0.9408);letter-spacing:0.0px;">Feb.</div>

<div class="t" style="left:216.76px;top:726.75px;font-size:16.40px;font-weight:normal;color:#0d0d0d;letter-spacing:0.0px;">Mar.</div>

<div class="t" style="left:267.17px;top:726.75px;font-size:16.40px;font-weight:normal;color:#0d0d0d;transform:scaleX(0.9353);letter-spacing:0.0px;">Apr.</div>

<div class="t" style="left:314.64px;top:726.75px;font-size:16.40px;font-weight:normal;color:#0d0d0d;transform:scaleX(1.0100);letter-spacing:0.0px;">May</div>

<div class="t" style="left:365.04px;top:726.75px;font-size:16.40px;font-weight:normal;color:#0d0d0d;transform:scaleX(1.0327);letter-spacing:0.0px;">Jun.</div>

<div class="t" style="left:421.13px;top:726.75px;font-size:16.40px;font-weight:normal;color:#0d0d0d;transform:scaleX(1.0603);letter-spacing:0.0px;">Jul.</div>

<div class="t" style="left:468.97px;top:726.75px;font-size:16.40px;font-weight:normal;color:#0d0d0d;transform:scaleX(0.9625);letter-spacing:0.0px;">Aug.</div>

<div class="t" style="left:523.29px;top:726.75px;font-size:16.40px;font-weight:normal;color:#0d0d0d;transform:scaleX(0.9525);letter-spacing:0.0px;">Sep.</div>

<div class="t" style="left:568.85px;top:726.75px;font-size:16.40px;font-weight:normal;color:#0d0d0d;transform:scaleX(0.9714);letter-spacing:0.0px;">Oct.</div>

<div class="t" style="left:622.28px;top:726.75px;font-size:16.40px;font-weight:normal;color:#0d0d0d;transform:scaleX(0.9821);letter-spacing:0.0px;">Nov..</div>

<div class="t" style="left:673.29px;top:726.75px;font-size:16.40px;font-weight:normal;color:#0d0d0d;transform:scaleX(0.9716);letter-spacing:0.0px;">Dec.</div>

<div style="position:absolute;left:306.1px;top:765.3px;width:14.7px;height:13.9px;background:#27437a"></div><div class="t" style="left:325.89px;top:764.90px;font-size:16.90px;font-weight:normal;color:#0d0d0d;transform:scaleX(0.9472);letter-spacing:0.0px;">2023</div>
<div style="position:absolute;left:395.2px;top:765.3px;width:14.7px;height:13.9px;background:#6995bf"></div><div class="t" style="left:414.58px;top:764.90px;font-size:16.90px;font-weight:normal;color:#0d0d0d;transform:scaleX(0.9683);letter-spacing:0.0px;">2024</div>
<svg width="1200" height="800" style="position:absolute;left:0;top:0">
<defs><clipPath id="dc"><path d="M936.8 538.5 a118.5 118.5 0 1 0 237.0 0 a118.5 118.5 0 1 0 -237.0 0 Z M982.3 538.5 a73 73 0 1 1 146 0 a73 73 0 1 1 -146 0 Z" clip-rule="evenodd"/></clipPath></defs>
<path d="M1055.30 420.00 A118.5 118.5 0 1 1 942.35 574.33 L985.72 560.57 A73 73 0 1 0 1055.30 465.50 Z" fill="#27437a" stroke="#fff" stroke-width="1"/><path d="M942.35 574.33 A118.5 118.5 0 0 1 989.04 440.26 L1014.48 477.98 A73 73 0 0 0 985.72 560.57 Z" fill="#5bbdf5" stroke="#fff" stroke-width="1"/><path d="M989.04 440.26 A118.5 118.5 0 0 1 1028.64 423.04 L1038.88 467.37 A73 73 0 0 0 1014.48 477.98 Z" fill="#6b7f78" stroke="#fff" stroke-width="1"/><path d="M1028.64 423.04 A118.5 118.5 0 0 1 1055.30 420.00 L1055.30 465.50 A73 73 0 0 0 1038.88 467.37 Z" fill="#4a7db3" stroke="#fff" stroke-width="1"/>
<g clip-path="url(#dc)" font-family="Liberation Sans" fill="#fff">
<text x="939.1" y="518.75" font-size="19.7" stroke="#fff" stroke-width="0.3">148.9</text>
<text x="997.35" y="457.75" font-size="19.7" stroke="#fff" stroke-width="0.3">38.8</text>
<text x="1064.54" y="635.1" font-size="20.5" stroke="#fff" stroke-width="0.3">1 102</text>
</g>
</svg>
<div class="t" style="left:991.75px;top:514.70px;font-size:49.77px;font-weight:normal;color:#0d0d0d;-webkit-text-stroke:1.3px #0d0d0d;transform:scaleX(1.0030);letter-spacing:0.0px;"><span style="position:relative;color:transparent;-webkit-text-stroke:0 transparent">1<svg style="position:absolute;left:0;top:0;overflow:visible" width="27.68" height="56"><g transform="translate(0 45) scale(0.02430 -0.02430)"><path d="M770 0 L770 1409 L640 1409 L165 1232 L165 1068 L560 1205 L560 0 Z" fill="#0d0d0d" stroke="#0d0d0d" stroke-width="53.5" stroke-linejoin="miter"/></g></svg></span> 297</div>
<div class="t" style="left:742.59px;top:356.00px;font-size:26.39px;font-weight:normal;color:#0d0d0d;-webkit-text-stroke:1.15px #0d0d0d;transform:scaleX(1.0732);letter-spacing:0.0px;">Export structure by product type,</div>
<div class="t" style="left:744.16px;top:389.00px;font-size:27.77px;font-weight:normal;color:#0d0d0d;-webkit-text-stroke:1.15px #0d0d0d;transform:scaleX(1.0166);letter-spacing:0.0px;">ths tones</div>
<div style="position:absolute;left:743px;top:460.0px;width:19.9px;height:19.6px;background:#27437a"></div><div class="t" style="left:768.05px;top:460.30px;font-size:19.40px;font-weight:normal;color:#0d0d0d;-webkit-text-stroke:0.2px #0d0d0d;transform:scaleX(1.0401);letter-spacing:0.0px;">Hot-rolled flat</div>
<div class="t" style="left:768.40px;top:479.70px;font-size:19.40px;font-weight:normal;color:#0d0d0d;-webkit-text-stroke:0.2px #0d0d0d;transform:scaleX(1.0474);letter-spacing:0.0px;">products</div>
<div style="position:absolute;left:743px;top:505.2px;width:19.9px;height:19.6px;background:#5bbdf5"></div><div class="t" style="left:768.69px;top:505.00px;font-size:19.40px;font-weight:normal;color:#0d0d0d;-webkit-text-stroke:0.2px #0d0d0d;transform:scaleX(1.0238);letter-spacing:0.0px;">Cold-rolled flat</div>
<div class="t" style="left:768.40px;top:524.80px;font-size:19.40px;font-weight:normal;color:#0d0d0d;-webkit-text-stroke:0.2px #0d0d0d;transform:scaleX(1.0474);letter-spacing:0.0px;">products</div>
<div style="position:absolute;left:743px;top:550.2px;width:19.9px;height:19.6px;background:#6b7f78"></div><div class="t" style="left:768.69px;top:552.20px;font-size:19.40px;font-weight:normal;color:#0d0d0d;-webkit-text-stroke:0.2px #0d0d0d;transform:scaleX(1.0237);letter-spacing:0.0px;">Coated flat</div>
<div class="t" style="left:768.40px;top:571.70px;font-size:19.40px;font-weight:normal;color:#0d0d0d;-webkit-text-stroke:0.2px #0d0d0d;transform:scaleX(1.0474);letter-spacing:0.0px;">products</div>
<div style="position:absolute;left:743px;top:597.2px;width:19.9px;height:19.6px;background:#4a7db3"></div><div class="t" style="left:768.78px;top:597.20px;font-size:19.40px;font-weight:normal;color:#0d0d0d;-webkit-text-stroke:0.2px #0d0d0d;transform:scaleX(0.9965);letter-spacing:0.0px;">Others</div>
<div class="t" style="left:742.90px;top:669.70px;font-size:25.70px;font-weight:normal;color:#0d0d0d;-webkit-text-stroke:1.15px #0d0d0d;transform:scaleX(1.1068);letter-spacing:0.0px;">Main consumers</div>
<div style="position:absolute;left:757px;top:705.3px;width:70px;height:50.5px;background:linear-gradient(to bottom,#fff 0.00%,#fff 50.00%,#cf2030 50.00%,#cf2030 100.00%);box-shadow:0 -1.5px 3px rgba(0,0,0,0.28)"></div><div class="t" style="left:760.66px;top:759.00px;font-size:19.50px;font-weight:normal;color:#0d0d0d;-webkit-text-stroke:0.2px #0d0d0d;transform:scaleX(1.0299);letter-spacing:0.0px;">Poland</div>
<div style="position:absolute;left:867px;top:704.5px;width:70px;height:50.5px;background:linear-gradient(to bottom,#fff 0.00%,#fff 33.33%,#0a9a6c 33.33%,#0a9a6c 66.67%,#d42c14 66.67%,#d42c14 100.00%);box-shadow:0 -1.5px 3px rgba(0,0,0,0.28)"></div><div class="t" style="left:863.79px;top:758.40px;font-size:19.50px;font-weight:normal;color:#0d0d0d;-webkit-text-stroke:0.2px #0d0d0d;transform:scaleX(1.0051);letter-spacing:0.0px;">Bulgaria</div>
<div style="position:absolute;left:978.1px;top:705.6px;width:70px;height:50.5px;background:linear-gradient(to right,#0a2d82 0.00%,#0a2d82 33.33%,#f9cd1a 33.33%,#f9cd1a 66.67%,#cc1227 66.67%,#cc1227 100.00%);box-shadow:0 -1.5px 3px rgba(0,0,0,0.28)"></div><div class="t" style="left:973.70px;top:759.50px;font-size:19.50px;font-weight:normal;color:#0d0d0d;-webkit-text-stroke:0.2px #0d0d0d;transform:scaleX(1.0021);letter-spacing:0.0px;">Romania</div>
<div style="position:absolute;left:1090.1px;top:705.6px;width:70px;height:50.5px;background:linear-gradient(to right,#13934a 0.00%,#13934a 33.33%,#fff 33.33%,#fff 66.67%,#cc2c38 66.67%,#cc2c38 100.00%);box-shadow:0 -1.5px 3px rgba(0,0,0,0.28)"></div><div class="t" style="left:1105.36px;top:759.50px;font-size:19.50px;font-weight:normal;color:#0d0d0d;-webkit-text-stroke:0.2px #0d0d0d;transform:scaleX(1.0256);letter-spacing:0.0px;">Italy</div>
</div></body></html>
